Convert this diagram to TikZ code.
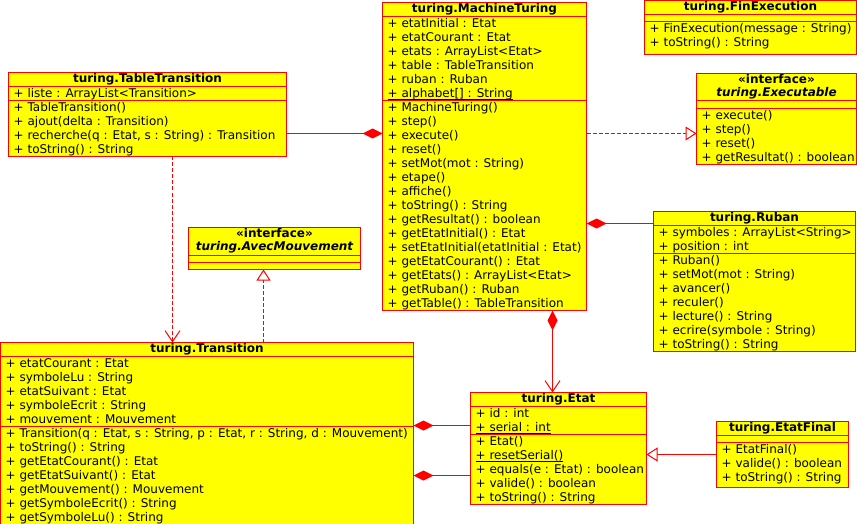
\documentclass[tikz,border=0pt]{standalone}
\usepackage{fontspec}
\setmainfont{DejaVu Sans}
\usetikzlibrary{arrows.meta}
\definecolor{umlfill}{RGB}{255,255,0}
\definecolor{umlred}{RGB}{255,0,0}
\newcommand\ulx[1]{\setbox0=\hbox{#1}\rlap{\rule[-2.6pt]{\wd0}{1pt}}\box0}
\newcommand\classbox[5]{\node[clsbox, minimum width=#4pt, minimum height=#5pt] (#1) at (#2,#3) {};}
\newcommand\sepline[2]{\draw[clsline] ([yshift=-#2pt]#1.north west) -- ([yshift=-#2pt]#1.north east);}
\newcommand\members[4]{\foreach \t [count=\i from 0] in {#4} {\node[txt] (#1-#2\i) at ({#3+5},{#2+11+14*\i}) {\t};}}
\newcommand\membersat[4]{\foreach \t [count=\i from 0] in {#4} {\node[txt] (#1\i) at ({#2+5},{#3+11+14*\i}) {\t};}}
\begin{document}
\begin{tikzpicture}[x=1pt,y=-1pt,
  clsbox/.style={draw=umlred, fill=umlfill, line width=1pt, rectangle, anchor=north west, inner sep=0pt, outer sep=0pt},
  clsline/.style={draw=umlred, line width=1pt},
  txt/.style={anchor=base west, inner sep=0pt, font=\fontsize{12}{14}\selectfont},
  ttl/.style={anchor=base, inner sep=0pt, font=\fontsize{12}{14}\selectfont\bfseries},
  link/.style={draw=umlred, line width=1pt},
  dlink/.style={link, dash pattern=on 4pt off 2pt},
  comp/.style={-{Diamond[length=20pt,width=10pt,fill=umlred]}},
  compstart/.style={{Diamond[length=20pt,width=10pt,fill=umlred]}-{Straight Barb[length=11pt,width=15pt]}},
  realize/.style={-{Triangle[open,length=11pt,width=14pt,fill=white]}},
  dep/.style={-{Straight Barb[length=11pt,width=15pt]}}
]
\useasboundingbox (0,0) rectangle (857,524);
\fill[white] (0,0) rectangle (857,524);

% TableTransition
\classbox{tt}{8.5}{72.5}{278}{84}
\sepline{tt}{14}\sepline{tt}{28}
\node[ttl] (tt-title) at (147.5,82.5) {turing.TableTransition};
\membersat{tt-a}{8.5}{86.5}{{+ liste : ArrayList<Transition>}}
\membersat{tt-m}{8.5}{100.5}{{+ TableTransition()},{+ ajout(delta : Transition)},{+ recherche(q : Etat, s : String) : Transition},{+ toString() : String}}

% MachineTuring
\classbox{mt}{382.5}{2.5}{204}{308}
\sepline{mt}{14}\sepline{mt}{98}
\node[ttl] (mt-title) at (484.5,12.5) {turing.MachineTuring};
\membersat{mt-a}{382.5}{16.5}{{+ etatInitial : Etat},{+ etatCourant : Etat},{+ etats : ArrayList<Etat>},{+ table : TableTransition},{+ ruban : Ruban},{\ulx{+ alphabet[] : String}}}
\membersat{mt-m}{382.5}{100.5}{{+ MachineTuring()},{+ step()},{+ execute()},{+ reset()},{+ setMot(mot : String)},{+ etape()},{+ affiche()},{+ toString() : String},{+ getResultat() : boolean},{+ getEtatInitial() : Etat},{+ setEtatInitial(etatInitial : Etat)},{+ getEtatCourant() : Etat},{+ getEtats() : ArrayList<Etat>},{+ getRuban() : Ruban},{+ getTable() : TableTransition}}

% FinExecution
\classbox{fe}{644.5}{0.5}{212}{54.5}
\sepline{fe}{14}\sepline{fe}{21}
\node[ttl] (fe-title) at (750.5,10.5) {turing.FinExecution};
\membersat{fe-m}{644.5}{21.5}{{+ FinExecution(message : String)},{+ toString() : String}}

% Executable
\classbox{ex}{696.5}{73.5}{160}{91}
\sepline{ex}{27}\sepline{ex}{35}
\node[ttl] (ex-st) at (776.5,83.5) {«interface»};
\node[ttl, font=\fontsize{12}{14}\selectfont\bfseries\itshape] (ex-title) at (776.5,96.5) {turing.Executable};
\membersat{ex-m}{696.5}{108.5}{{+ execute()},{+ step()},{+ reset()},{+ getResultat() : boolean}}

% Ruban
\classbox{rb}{653.5}{211.5}{202}{140}
\sepline{rb}{14}\sepline{rb}{42}
\node[ttl] (rb-title) at (754.5,221.5) {turing.Ruban};
\membersat{rb-a}{653.5}{225.5}{{+ symboles : ArrayList<String>},{+ position : int}}
\membersat{rb-m}{653.5}{253.5}{{+ Ruban()},{+ setMot(mot : String)},{+ avancer()},{+ reculer()},{+ lecture() : String},{+ ecrire(symbole : String)},{+ toString() : String}}

% AvecMouvement
\classbox{am}{188.5}{227.5}{172}{42}
\sepline{am}{28}\sepline{am}{35}
\node[ttl] (am-st) at (274.5,237) {«interface»};
\node[ttl, font=\fontsize{12}{14}\selectfont\bfseries\itshape] (am-title) at (274.5,250.5) {turing.AvecMouvement};

% Transition
\classbox{tr}{0.5}{342.5}{413}{184}
\sepline{tr}{14}\sepline{tr}{84}
\node[ttl] (tr-title) at (207,352.5) {turing.Transition};
\membersat{tr-a}{0.5}{356.5}{{+ etatCourant : Etat},{+ symboleLu : String},{+ etatSuivant : Etat},{+ symboleEcrit : String},{+ mouvement : Mouvement}}
\membersat{tr-m}{0.5}{426.5}{{+ Transition(q : Etat, s : String, p : Etat, r : String, d : Mouvement)},{+ toString() : String},{+ getEtatCourant() : Etat},{+ getEtatSuivant() : Etat},{+ getMouvement() : Mouvement},{+ getSymboleEcrit() : String},{+ getSymboleLu() : String}}

% Etat
\classbox{et}{470.5}{392.5}{176}{112}
\sepline{et}{14}\sepline{et}{42}
\node[ttl] (et-title) at (558.5,402.5) {turing.Etat};
\membersat{et-a}{470.5}{406.5}{{+ id : int},{\ulx{+ serial : int}}}
\membersat{et-m}{470.5}{434.5}{{+ Etat()},{\ulx{+ resetSerial()}},{+ equals(e : Etat) : boolean},{+ valide() : boolean},{+ toString() : String}}

% EtatFinal
\classbox{ef}{716.5}{421.5}{132}{65.5}
\sepline{ef}{14}\sepline{ef}{20.5}
\node[ttl] (ef-title) at (782.5,431.5) {turing.EtatFinal};
\membersat{ef-m}{716.5}{442}{{+ EtatFinal()},{+ valide() : boolean},{+ toString() : String}}

% Connectors
\draw[link, comp] ([yshift=-61pt]tt.north east) -- ([yshift=-131pt]mt.north west);
\draw[dlink, realize] ([yshift=-131pt]mt.north east) -- ([yshift=-60pt]ex.north west);
\draw[link, comp] ([yshift=-12pt]rb.north west) -- ([yshift=-221pt]mt.north east);
\draw[link, compstart] ([xshift=170pt]mt.south west) -- ([xshift=82pt]et.north west);
\draw[dlink, dep] ([xshift=164pt]tt.south west) -- ([xshift=172pt]tr.north west);
\draw[dlink, realize] ([xshift=263pt]tr.north west) -- ([xshift=75pt]am.south west);
\draw[link, comp] ([yshift=-33pt]et.north west) -- ([yshift=-83pt]tr.north east);
\draw[link, comp] ([yshift=-83pt]et.north west) -- ([yshift=-133pt]tr.north east);
\draw[link, realize] ([yshift=-33pt]ef.north west) -- ([yshift=-62pt]et.north east);
\end{tikzpicture}
\end{document}
